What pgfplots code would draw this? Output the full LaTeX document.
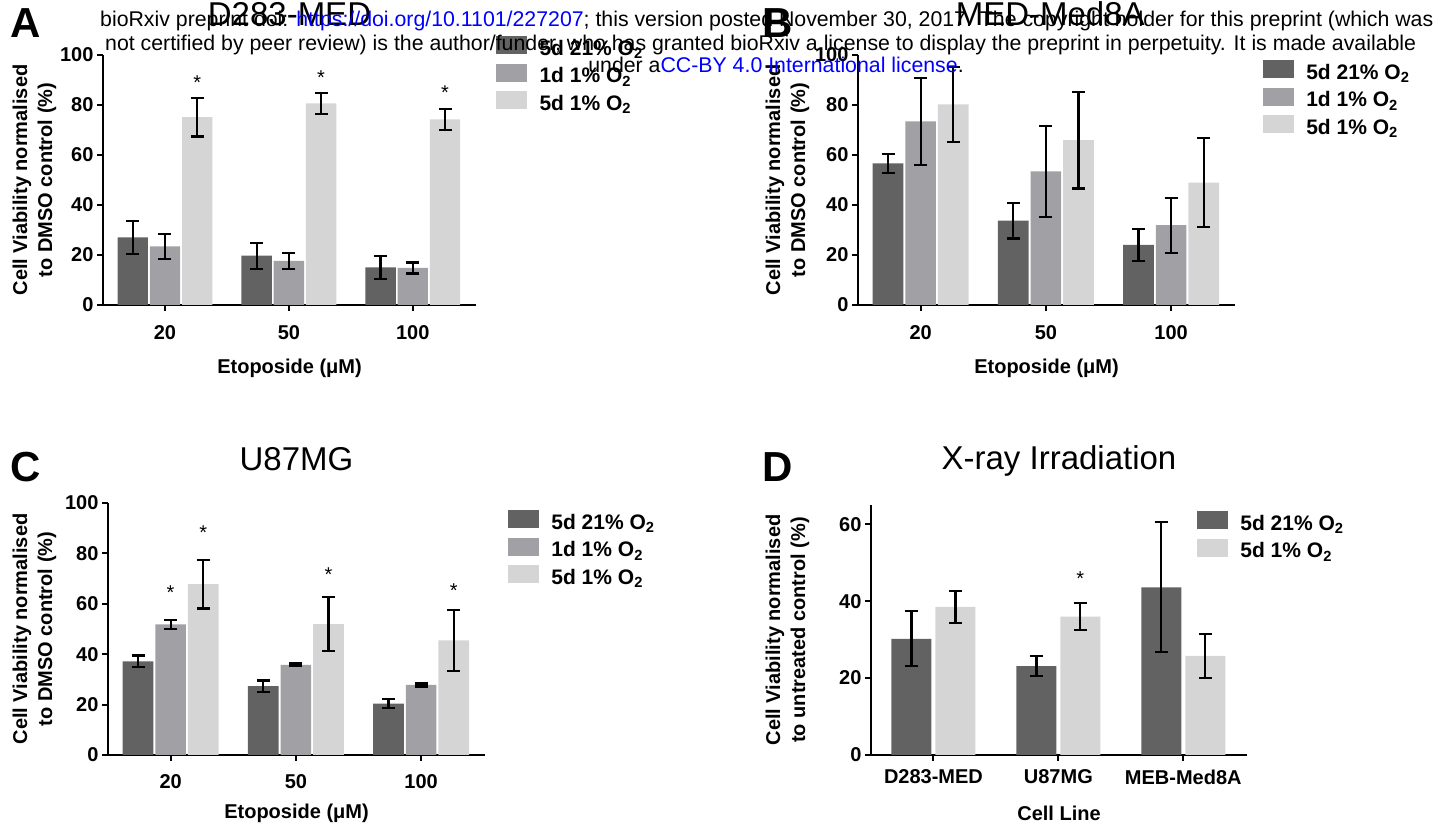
\documentclass[border=0pt]{standalone}
\usepackage{pgfplots}
\pgfplotsset{compat=1.18}
\usepackage{fontspec}
\setmainfont{Liberation Sans}
\definecolor{cdark}{HTML}{626262}
\definecolor{cmed}{HTML}{A1A0A5}
\definecolor{clight}{HTML}{D5D5D5}
\definecolor{linkblue}{HTML}{0000FF}

\pgfplotsset{
 panel/.style={
  scale only axis,
  axis lines=left,
  axis line style={-, line width=2pt},
  every tick/.style={black, line width=2pt},
  major tick length=6pt,
  tick align=outside,
  xtick={0,1,2},
  xmin=-0.5, xmax=2.51,
  ymin=0,
  /pgf/number format/assume math mode=true,
  tick label style={font=\fontsize{20}{24}\selectfont\bfseries},
  label style={font=\fontsize{20}{25}\selectfont\bfseries},
  ylabel style={align=center},
  legend style={draw=none, fill=none, inner sep=0pt, outer sep=0pt, row sep=2.5pt, column sep=13pt, anchor=north west,
     font=\fontsize{21}{25}\selectfont\bfseries, nodes={inner sep=0pt, text height=14pt, text depth=6pt}},
  legend cell align=left,
  title style={font=\fontsize{33}{38}\selectfont, anchor=base},
  clip=false,
 },
 bars/.style 2 args={ybar, bar width=#2, bar shift=0pt, draw=none, fill=#1, forget plot,
   error bars/.cd, y dir=both, y explicit, error bar style={line width=2.2pt, black},
   error mark=-, error mark options={rotate=90, mark size=6.5pt, line width=2.2pt, black}},
 swatch/.style={legend image code/.code={\fill[#1] (0pt,-2pt) rectangle (30pt,15pt);}},
 stars/.style={draw=none, mark=none, forget plot, nodes near coords={*},
   every node near coord/.append style={anchor=center, yshift=-4.3pt, font=\fontsize{20}{24}\selectfont, inner sep=0pt}},
}

\begin{document}
\begin{tikzpicture}
\path[use as bounding box] (0pt,0pt) rectangle (1450pt,834pt);

% ---------------- A ----------------
\begin{axis}[panel, at={(103pt,529pt)}, anchor=south west, width=373pt, height=250pt,
  ymax=100, ytick={0,20,...,100}, xticklabels={20,50,100},
  xticklabel style={yshift=-11pt},
  title={D283-MED}, title style={at={(axis description cs:0.5,1.092)}},
  xlabel={Etoposide (μM)}, ylabel={Cell Viability normalised\\to DMSO control (\%)},
  xlabel style={at={(axis description cs:0.5,-0.252)}, anchor=center},
  ylabel style={at={(axis description cs:-0.184,0.5)}, anchor=center},
  legend style={at={(axis description cs:1.054,1.076)}}]
\addlegendimage{swatch=cdark}\addlegendentry{5d 21\% O\textsubscript{2}}
\addlegendimage{swatch=cmed}\addlegendentry{1d 1\% O\textsubscript{2}}
\addlegendimage{swatch=clight}\addlegendentry{5d 1\% O\textsubscript{2}}
\addplot[bars={cdark}{0.245}] coordinates {(-0.26,27.0) +- (0,6.75) (0.74,19.7) +- (0,5.25) (1.74,15.0) +- (0,4.5)};
\addplot[bars={cmed}{0.245}] coordinates {(0,23.4) +- (0,4.95) (1,17.6) +- (0,3.25) (2,14.8) +- (0,2.2)};
\addplot[bars={clight}{0.245}] coordinates {(0.26,75.1) +- (0,7.7) (1.26,80.6) +- (0,4.35) (2.26,74.2) +- (0,4.2)};
\addplot[stars] coordinates {(0.26,90.5) (1.26,92.8) (2.26,86.6)};
\end{axis}

% ---------------- B ----------------
\begin{axis}[panel, at={(858pt,529pt)}, anchor=south west, width=377pt, height=250pt,
  ymax=100, ytick={0,20,...,100}, xticklabels={20,50,100},
  xticklabel style={yshift=-11pt},
  title={MED-Med8A}, title style={at={(axis description cs:0.51,1.092)}},
  xlabel={Etoposide (μM)}, ylabel={Cell Viability normalised\\to DMSO control (\%)},
  xlabel style={at={(axis description cs:0.5,-0.252)}, anchor=center},
  ylabel style={at={(axis description cs:-0.187,0.5)}, anchor=center},
  legend style={at={(axis description cs:1.074,0.98)}}]
\addlegendimage{swatch=cdark}\addlegendentry{5d 21\% O\textsubscript{2}}
\addlegendimage{swatch=cmed}\addlegendentry{1d 1\% O\textsubscript{2}}
\addlegendimage{swatch=clight}\addlegendentry{5d 1\% O\textsubscript{2}}
\addplot[bars={cdark}{0.245}] coordinates {(-0.26,56.6) +- (0,3.85) (0.74,33.7) +- (0,7.1) (1.74,24.0) +- (0,6.55)};
\addplot[bars={cmed}{0.245}] coordinates {(0,73.4) +- (0,17.4) (1,53.4) +- (0,18.25) (2,31.9) +- (0,11.0)};
\addplot[bars={clight}{0.245}] coordinates {(0.26,80.2) +- (0,15.0) (1.26,65.9) +- (0,19.3) (2.26,48.9) +- (0,17.8)};
\end{axis}

% ---------------- C ----------------
\begin{axis}[panel, at={(108pt,79pt)}, anchor=south west, width=377pt, height=252pt,
  ymax=100, ytick={0,20,...,100}, xticklabels={20,50,100},
  xticklabel style={yshift=-10pt},
  title={U87MG}, title style={at={(axis description cs:0.5,1.107)}},
  xlabel={Etoposide (μM)}, ylabel={Cell Viability normalised\\to DMSO control (\%)},
  xlabel style={at={(axis description cs:0.5,-0.23)}, anchor=center},
  ylabel style={at={(axis description cs:-0.195,0.5)}, anchor=center},
  legend style={at={(axis description cs:1.061,0.972)}}]
\addlegendimage{swatch=cdark}\addlegendentry{5d 21\% O\textsubscript{2}}
\addlegendimage{swatch=cmed}\addlegendentry{1d 1\% O\textsubscript{2}}
\addlegendimage{swatch=clight}\addlegendentry{5d 1\% O\textsubscript{2}}
\addplot[bars={cdark}{0.245}] coordinates {(-0.26,37.2) +- (0,2.25) (0.74,27.3) +- (0,2.3) (1.74,20.4) +- (0,1.9)};
\addplot[bars={cmed}{0.245}] coordinates {(0,51.8) +- (0,1.65) (1,35.8) +- (0,0.5) (2,27.8) +- (0,0.6)};
\addplot[bars={clight}{0.245}] coordinates {(0.26,67.8) +- (0,9.7) (1.26,51.9) +- (0,10.75) (2.26,45.5) +- (0,12.15)};
\addplot[stars] coordinates {(0,66.1) (0.26,89.8) (1.26,73.2) (2.26,66.8)};
\end{axis}

% ---------------- D ----------------
\begin{axis}[panel, at={(871pt,79pt)}, anchor=south west, width=376pt, height=250pt,
  ymax=65, ytick={0,20,40,60}, xticklabels={D283-MED,U87MG,MEB-Med8A},
  xticklabel style={yshift=-5pt},
  title={X-ray Irradiation}, title style={at={(axis description cs:0.5,1.116)}},
  xlabel={Cell Line}, ylabel={Cell Viability normalised\\to untreated control (\%)},
  xlabel style={at={(axis description cs:0.5,-0.232)}, anchor=center},
  ylabel style={at={(axis description cs:-0.222,0.5)}, anchor=center},
  legend style={at={(axis description cs:0.867,0.976)}}]
\addlegendimage{swatch=cdark}\addlegendentry{5d 21\% O\textsubscript{2}}
\addlegendimage{swatch=clight}\addlegendentry{5d 1\% O\textsubscript{2}}
\addplot[bars={cdark}{0.32}] coordinates {(-0.176,30.2) +- (0,7.15) (0.824,23.1) +- (0,2.6) (1.824,43.6) +- (0,16.9)};
\addplot[bars={clight}{0.32}] coordinates {(0.176,38.5) +- (0,4.15) (1.176,36.0) +- (0,3.55) (2.176,25.8) +- (0,5.7)};
\addplot[stars] coordinates {(1.176,47.0)};
\end{axis}

% panel letters
\node[font=\fontsize{42}{48}\selectfont\bfseries, anchor=base] at (26pt,796pt) {A};
\node[font=\fontsize{42}{48}\selectfont\bfseries, anchor=base] at (778pt,796pt) {B};
\node[font=\fontsize{42}{48}\selectfont\bfseries, anchor=base] at (26pt,352pt) {C};
\node[font=\fontsize{42}{48}\selectfont\bfseries, anchor=base] at (778pt,352pt) {D};

% bioRxiv header
\node[anchor=base west, inner sep=0pt, font=\fontsize{21.3}{24}\selectfont] at (100pt,807pt)
 {bioRxiv preprint doi: \textcolor{linkblue}{https://doi.org/10.1101/227207}; this version posted November 30, 2017. The copyright holder for this preprint (which was};
\node[anchor=base west, inner sep=0pt, font=\fontsize{21.3}{24}\selectfont] at (105pt,783pt)
 {not certified by peer review) is the author/funder, who has granted bioRxiv a license to display the preprint in perpetuity. It is made available};
\node[anchor=base, inner sep=0pt, font=\fontsize{21.3}{24}\selectfont] at (776pt,761pt)
 {under a\textcolor{linkblue}{CC-BY 4.0 International license}.};
\end{tikzpicture}
\end{document}
